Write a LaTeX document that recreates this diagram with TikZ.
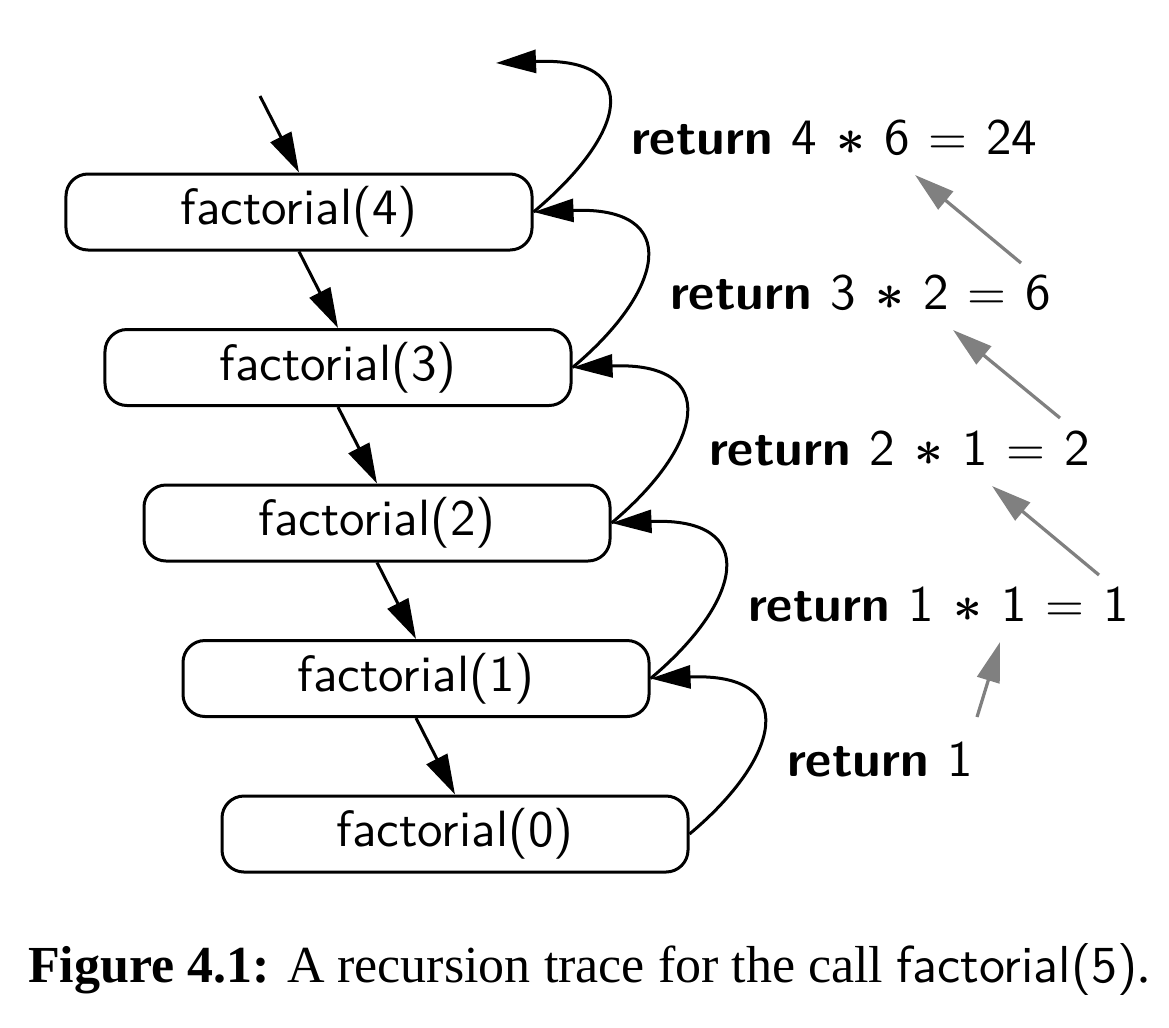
\documentclass[tikz,border=0pt]{standalone}
\usepackage{fontspec}
\setmainfont{Liberation Serif}
\usetikzlibrary{arrows.meta}
\newcommand{\mulsign}{{\boldmath$\ast$}}
\newcommand{\retgap}{\hspace{3.8pt}}
\begin{document}
\begin{tikzpicture}[x=0.2pt,y=-0.2pt,
  fbox/.style={draw,line width=0.6pt,rounded corners=4.4pt,minimum width=93.2pt,minimum height=15.2pt,inner sep=0pt,font=\sffamily\fontsize{10.2}{12}\selectfont},
  call/.style={line width=0.6pt,-{Triangle[length=8pt,width=4.6pt]}},
  upret/.style={line width=0.65pt,draw=gray,-{Triangle[length=8pt,width=4.6pt]}},
  lbl/.style={anchor=base west,inner sep=0pt,font=\sffamily\fontsize{10.2}{12}\selectfont},
  capt/.style={anchor=base west,inner sep=0pt,font=\fontsize{10.4}{12}\selectfont}
]
\useasboundingbox (0,0) rectangle (1169,1027);
% call boxes
\node[fbox] (f4) at (299,212) {factorial(4)};
\node[fbox] (f3) at (338,367.5) {factorial(3)};
\node[fbox] (f2) at (377,523) {factorial(2)};
\node[fbox] (f1) at (416,678.5) {factorial(1)};
\node[fbox] (f0) at (455,834) {factorial(0)};
% return labels
\node[lbl] (r4) at (630,154) {\textbf{return}\retgap 4\retgap\mulsign\retgap 6\retgap$=$\retgap 24};
\node[lbl] (r3) at (669,309.5) {\textbf{return}\retgap 3\retgap\mulsign\retgap 2\retgap$=$\retgap 6};
\node[lbl] (r2) at (708,465) {\textbf{return}\retgap 2\retgap\mulsign\retgap 1\retgap$=$\retgap 2};
\node[lbl] (r1) at (747,621) {\textbf{return}\retgap 1\retgap\mulsign\retgap 1\retgap$=$\retgap 1};
\node[lbl] (r0) at (786,776) {\textbf{return}\retgap 1};
% free ends
\coordinate (start) at (260,96);
\coordinate (top) at (496,63);
% calls
\draw[call] (start) -- (f4.north);
\draw[call] (f4.south) -- (f3.north);
\draw[call] (f3.south) -- (f2.north);
\draw[call] (f2.south) -- (f1.north);
\draw[call] (f1.south) -- (f0.north);
% returns
\draw[call] (f0.east) .. controls +(92,-77) and +(150,-6) .. (f1.east);
\draw[call] (f1.east) .. controls +(92,-77) and +(150,-6) .. (f2.east);
\draw[call] (f2.east) .. controls +(92,-77) and +(150,-6) .. (f3.east);
\draw[call] (f3.east) .. controls +(92,-77) and +(150,-6) .. (f4.east);
\draw[call] (f4.east) .. controls +(92,-77) and +(150,-6) .. (top);
% value arrows
\coordinate (g1s) at (1021,263); \coordinate (g1e) at (915,175);
\coordinate (g2s) at (1060,418); \coordinate (g2e) at (953,330);
\coordinate (g3s) at (1099,575); \coordinate (g3e) at (992,486);
\coordinate (g4s) at (977,717); \coordinate (g4e) at (1000,642);
\draw[upret] (g1s) -- (g1e);
\draw[upret] (g2s) -- (g2e);
\draw[upret] (g3s) -- (g3e);
\draw[upret] (g4s) -- (g4e);
% caption
\node[capt] (cap) at (27,982) {\textbf{Figure 4.1:} A recursion trace for the call \textsf{factorial(5)}.};
\end{tikzpicture}
\end{document}
